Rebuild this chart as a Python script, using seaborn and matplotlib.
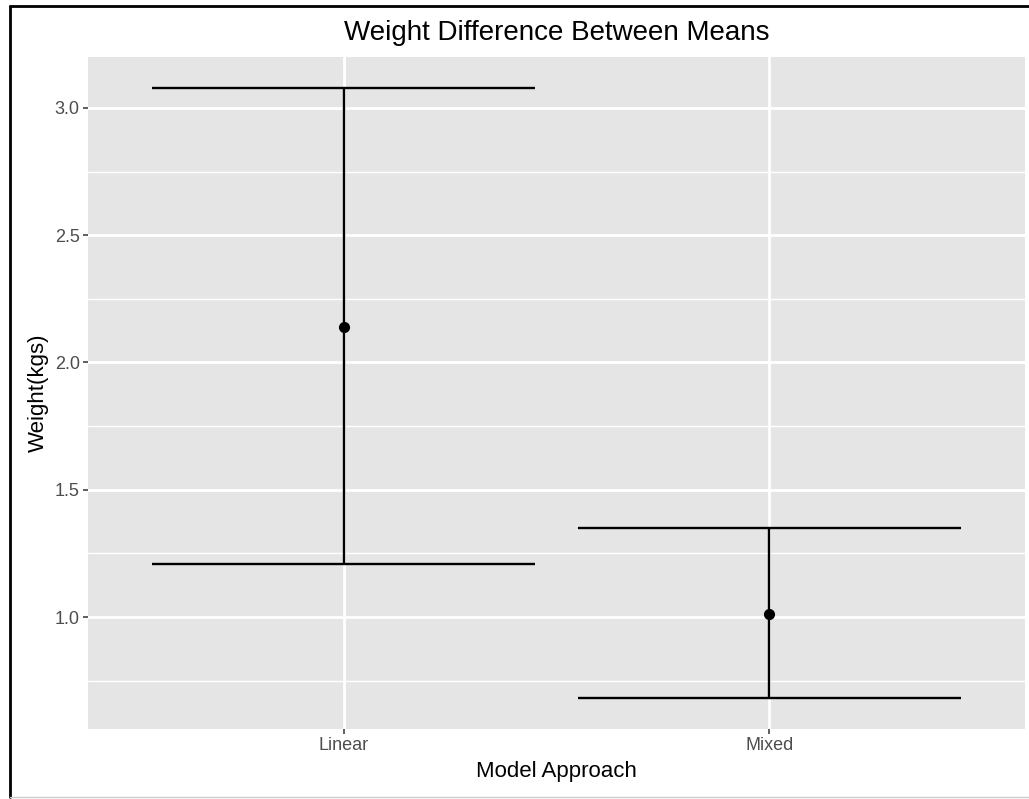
import matplotlib
matplotlib.use("Agg")
import matplotlib.pyplot as plt
from matplotlib.lines import Line2D
from matplotlib.ticker import MultipleLocator
import pandas as pd
import seaborn as sns

# values
approaches = ["Linear", "Mixed"]
means = [2.14, 1.01]
lower = [1.21, 0.68]
upper = [3.08, 1.35]

df = pd.DataFrame({"approach": approaches, "mean": means,
                   "lower": lower, "upper": upper})

sns.set_theme(style="darkgrid", rc={
    "axes.facecolor": "#E5E5E5",
    "grid.color": "white",
    "axes.edgecolor": "none",
})
plt.rcParams["font.family"] = ["Liberation Sans", "DejaVu Sans"]

W, H = 1029, 799
fig = plt.figure(figsize=(W / 100, H / 100), dpi=100)
ax = fig.add_axes([88 / W, 1 - 729 / H, (1025 - 88) / W, (729 - 57) / H])

# error bars (data units, cap half width 0.45 like ggplot width=0.9)
pos = list(range(len(approaches)))
half = 0.45
ax.vlines(pos, df["lower"], df["upper"], color="black", lw=1.7, zorder=3)
ax.hlines(df["lower"], [p - half for p in pos], [p + half for p in pos],
          color="black", lw=1.7, zorder=3)
ax.hlines(df["upper"], [p - half for p in pos], [p + half for p in pos],
          color="black", lw=1.7, zorder=3)

sns.pointplot(data=df, x="approach", y="mean", errorbar=None,
              linestyle="none", color="black", markersize=6, ax=ax,
              zorder=4)

ax.set_xlim(-0.6, 1.6)
ax.set_ylim(0.56, 3.2)
ax.yaxis.set_major_locator(MultipleLocator(0.5))
ax.yaxis.set_minor_locator(MultipleLocator(0.25))
ax.grid(which="major", color="white", lw=2.0)
ax.grid(which="minor", axis="y", color="white", lw=1.0)
ax.yaxis.set_major_formatter(matplotlib.ticker.FormatStrFormatter("%.1f"))

ax.tick_params(axis="both", which="major", length=3.5, width=1.1,
               color="#333333", labelcolor="#4D4D4D", labelsize=13,
               pad=2.5, bottom=True, left=True)
ax.tick_params(which="minor", length=0)

ax.set_title("Weight Difference Between Means", fontsize=20, pad=12,
             color="black")
ax.set_xlabel("Model Approach", fontsize=16, labelpad=5, color="black")
ax.set_ylabel("Weight(kgs)", fontsize=16, labelpad=4, color="black")

# screenshot frame
fig.add_artist(Line2D([10 / W, 10 / W], [2 / H, 1 - 6 / H],
                      transform=fig.transFigure, color="black", lw=2))
fig.add_artist(Line2D([10 / W, 1.0], [1 - 6 / H, 1 - 6 / H],
                      transform=fig.transFigure, color="black", lw=2))
fig.add_artist(Line2D([10 / W, 1.0], [2 / H, 2 / H],
                      transform=fig.transFigure, color="#CCCCCC", lw=1))

fig.savefig("out.png", dpi=100)
